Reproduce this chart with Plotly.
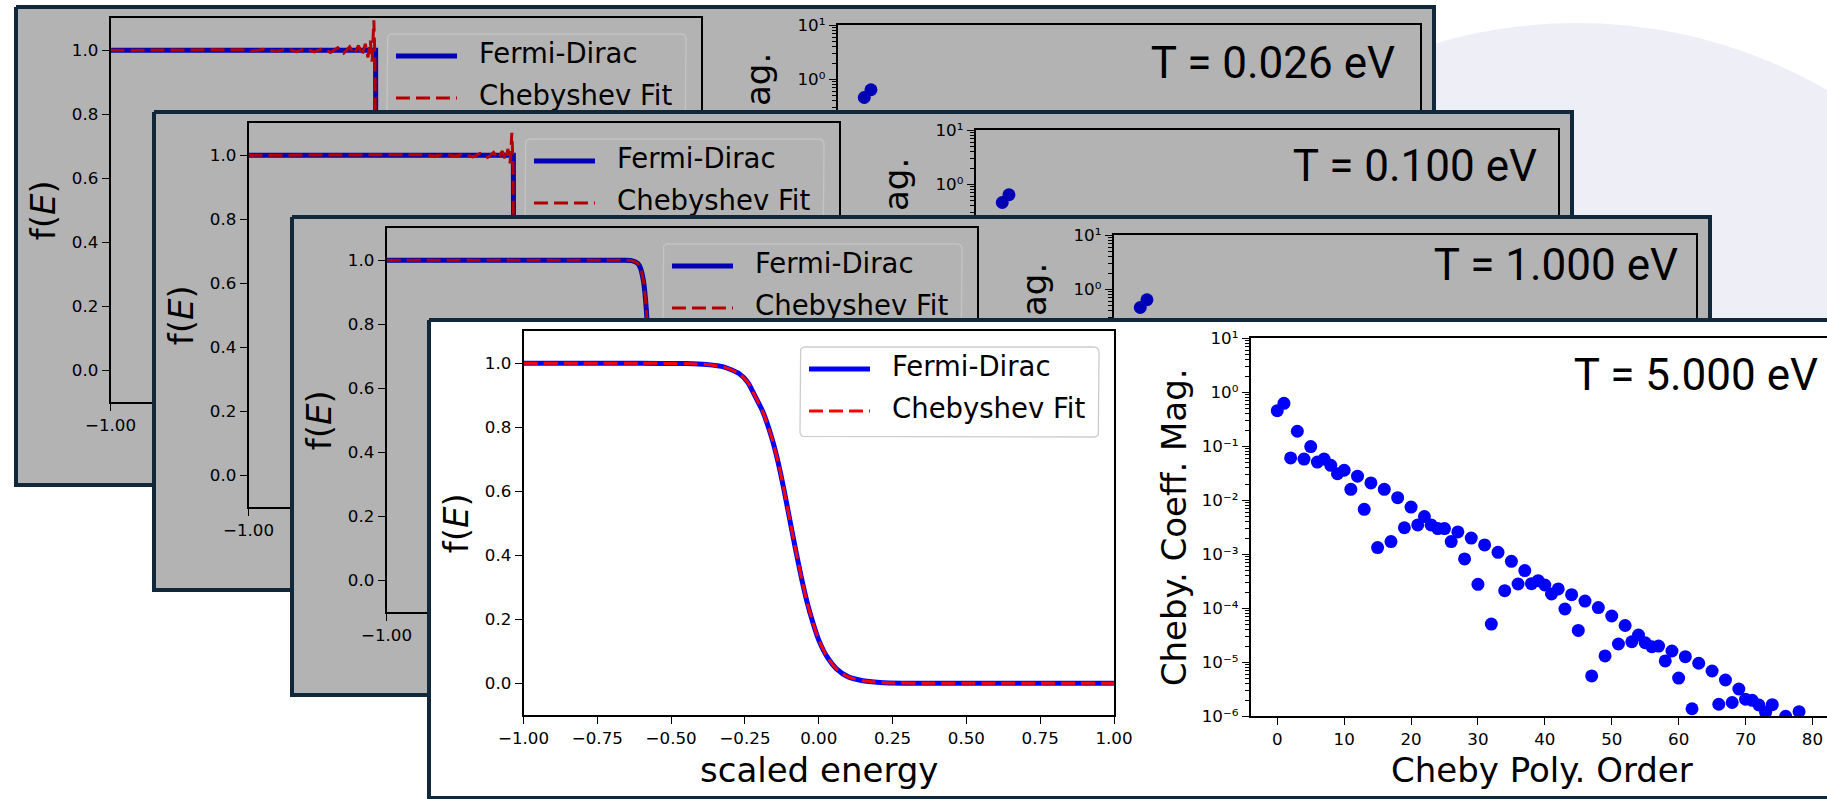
import math
import plotly.graph_objects as go

FIG_W, FIG_H = 1827, 799

# ------------------------------------------------------------------ data
panel_titles = ["T = 0.026 eV", "T = 0.100 eV", "T = 1.000 eV", "T = 5.000 eV"]

# Fermi-Dirac occupation f(E) vs scaled energy
fd_x_t0026 = [-1.00, -0.102, -0.101, 1.00]
fd_y_t0026 = [1.00, 1.00, 0.00, 0.00]
cheb_x_t0026 = [-1.00, -0.60, -0.56, -0.52, -0.48, -0.44, -0.40, -0.37, -0.34, -0.31, -0.28,
                -0.255, -0.23, -0.21, -0.19, -0.175, -0.16, -0.148, -0.137, -0.128, -0.120,
                -0.114, -0.108, -0.104, -0.101, -0.098, -0.09, 1.00]
cheb_y_t0026 = [1.000, 1.000, 1.002, 0.998, 1.003, 0.997, 1.004, 0.996, 1.005, 0.995, 1.006,
                0.993, 1.008, 0.991, 1.011, 0.988, 1.015, 0.984, 1.020, 0.978, 1.030,
                0.965, 1.094, 0.960, 0.50, -0.04, 0.01, 0.00]

fd_x_t0100 = [-1.00, -0.103, -0.100, 1.00]
fd_y_t0100 = [1.00, 1.00, 0.00, 0.00]
cheb_x_t0100 = [-1.00, -0.45, -0.41, -0.37, -0.33, -0.30, -0.27, -0.24, -0.215, -0.19, -0.17,
                -0.155, -0.14, -0.13, -0.121, -0.114, -0.108, -0.104, -0.101, -0.098, -0.09, 1.00]
cheb_y_t0100 = [1.000, 1.000, 1.002, 0.998, 1.003, 0.997, 1.004, 0.995, 1.006, 0.993, 1.009,
                0.990, 1.013, 0.985, 1.020, 0.975, 1.070, 0.965, 0.50, -0.03, 0.01, 0.00]

fd_x_t1000 = [-1.00, -0.20, -0.17, -0.15, -0.14, -0.13, -0.125, -0.12, -0.115, -0.11, -0.105,
              -0.10, -0.095, -0.09, -0.085, -0.08, -0.07, -0.06, -0.04, 0.00, 1.00]
fd_y_t1000 = [1.000, 1.000, 0.999, 0.991, 0.976, 0.937, 0.900, 0.846, 0.769, 0.668, 0.550,
              0.426, 0.310, 0.214, 0.142, 0.091, 0.036, 0.013, 0.002, 0.000, 0.000]
cheb_x_t1000 = [-1.00, -0.20, -0.17, -0.15, -0.14, -0.13, -0.125, -0.12, -0.115, -0.11, -0.105,
                -0.10, -0.095, -0.09, -0.085, -0.08, -0.07, -0.06, -0.04, 0.00, 1.00]
cheb_y_t1000 = [1.000, 1.000, 0.999, 0.991, 0.976, 0.937, 0.900, 0.846, 0.769, 0.668, 0.550,
                0.426, 0.310, 0.214, 0.142, 0.091, 0.036, 0.013, 0.002, 0.000, 0.000]

fd_x_t5000 = [-1.00, -0.60, -0.45, -0.38, -0.32, -0.27, -0.24, -0.22, -0.19, -0.16, -0.14, -0.12,
              -0.10, -0.08, -0.06, -0.04, -0.02, 0.00, 0.03, 0.06, 0.10, 0.15, 0.22, 0.35, 0.60, 1.00]
fd_y_t5000 = [1.000, 1.000, 0.999, 0.996, 0.988, 0.968, 0.940, 0.905, 0.850, 0.770, 0.700, 0.615,
              0.520, 0.425, 0.335, 0.255, 0.190, 0.135, 0.080, 0.045, 0.020, 0.008, 0.002, 0.000,
              0.000, 0.000]
cheb_x_t5000 = [-1.00, -0.60, -0.45, -0.38, -0.32, -0.27, -0.24, -0.22, -0.19, -0.16, -0.14, -0.12,
                -0.10, -0.08, -0.06, -0.04, -0.02, 0.00, 0.03, 0.06, 0.10, 0.15, 0.22, 0.35, 0.60, 1.00]
cheb_y_t5000 = [1.000, 1.000, 0.999, 0.996, 0.988, 0.968, 0.940, 0.905, 0.850, 0.770, 0.700, 0.615,
                0.520, 0.425, 0.335, 0.255, 0.190, 0.135, 0.080, 0.045, 0.020, 0.008, 0.002, 0.000,
                0.000, 0.000]

# Chebyshev coefficient magnitudes (only the visible points)
coef_n_t0026 = [0, 1]
coef_mag_t0026 = [0.46, 0.64]
coef_n_t0100 = [0, 1]
coef_mag_t0100 = [0.46, 0.64]
coef_n_t1000 = [0, 1]
coef_mag_t1000 = [0.46, 0.64]
coef_n_t5000 = [0, 1, 2, 3, 4, 5, 6, 7, 8, 9, 10, 11, 12, 13, 14, 15, 16, 17, 18, 19, 20,
                21, 22, 23, 24, 25, 26, 27, 28, 29, 30, 31, 32, 33, 34, 35, 36, 37, 38, 39, 40,
                41, 42, 43, 44, 45, 46, 47, 48, 49, 50, 51, 52, 53, 54, 55, 56, 57, 58, 59, 60,
                61, 62, 63, 65, 66, 67, 68, 69, 70, 71, 72, 73, 74, 76, 78]
coef_mag_t5000 = [0.457, 0.625, 0.061, 0.19, 0.058, 0.099, 0.051, 0.058, 0.0445, 0.031, 0.036,
                  0.016, 0.028, 0.0068, 0.021, 0.00133, 0.016, 0.00172, 0.0112, 0.0031, 0.0075,
                  0.0035, 0.0050, 0.0035, 0.0030, 0.0030, 0.00172, 0.0026, 0.00082, 0.0020, 0.000278,
                  0.00149, 5.1e-5, 0.00109, 0.000212, 0.00074, 0.000282, 0.0005, 0.000286, 0.000325, 0.00027,
                  0.000184, 0.000228, 9.7e-5, 0.000179, 3.9e-5, 0.000136, 5.6e-6, 0.000103, 1.31e-5, 7.2e-5,
                  2.18e-5, 4.8e-5, 2.4e-5, 3.2e-5, 2.3e-5, 1.95e-5, 2.0e-5, 1.06e-5, 1.62e-5, 5.1e-6,
                  1.27e-5, 1.38e-6, 9.6e-6, 6.9e-6, 1.67e-6, 4.7e-6, 1.8e-6, 3.2e-6, 2.07e-6, 1.98e-6,
                  1.62e-6, 1.19e-6, 1.64e-6, 1.0e-6, 1.22e-6]

log_tick_vals = [1e-6, 1e-5, 1e-4, 1e-3, 1e-2, 1e-1, 1e0, 1e1]
log_tick_text = ["10\u207b\u2076", "10\u207b\u2075", "10\u207b\u2074", "10\u207b\u00b3",
                 "10\u207b\u00b2", "10\u207b\u00b9", "10\u2070", "10\u00b9"]

panel_data = [
    (fd_x_t0026, fd_y_t0026, cheb_x_t0026, cheb_y_t0026, coef_n_t0026, coef_mag_t0026),
    (fd_x_t0100, fd_y_t0100, cheb_x_t0100, cheb_y_t0100, coef_n_t0100, coef_mag_t0100),
    (fd_x_t1000, fd_y_t1000, cheb_x_t1000, cheb_y_t1000, coef_n_t1000, coef_mag_t1000),
    (fd_x_t5000, fd_y_t5000, cheb_x_t5000, cheb_y_t5000, coef_n_t5000, coef_mag_t5000),
]

# ------------------------------------------------------------------ layout constants
PANEL_ORIGINS = [(14, 5), (152, 110), (290, 215), (427, 318)]
PW, PH = 1422, 482
TITLE_POS = [(1381, 62), (1385, 60), (1388, 53.5), (1391, 61)]
DARK = "#10283a"
MPL = "DejaVu Sans"
TICK_FONT = dict(family=MPL, size=16.7, color="black")
TITLE_FONT = dict(family=MPL, size=34, color="black")

# right axes: pixel extent inside the panel and its x range
R_X0, R_X1 = 823.5, 1405.5
R_LO, R_HI = -4.0, 83.0


def ax_key(kind, n):
    return f"{kind}axis" if n == 1 else f"{kind}axis{n}"


def ax_ref(kind, n):
    return kind if n == 1 else f"{kind}{n}"


def rounded_rect(x0, y0, x1, y1, r, n=6):
    xs, ys = [], []
    for cx, cy, a0, a1 in [(x1 - r, y0 + r, -90, 0), (x1 - r, y1 - r, 0, 90),
                           (x0 + r, y1 - r, 90, 180), (x0 + r, y0 + r, 180, 270)]:
        for i in range(n + 1):
            a = math.radians(a0 + (a1 - a0) * i / n)
            xs.append(cx + r * math.cos(a))
            ys.append(cy + r * math.sin(a))
    xs.append(xs[0])
    ys.append(ys[0])
    return xs, ys


def paper(px, py):
    return px / FIG_W, 1 - py / FIG_H


fig = go.Figure()
layout = {}
annotations = []
minor_vals = [m * 10.0 ** e for e in range(-6, 1) for m in range(2, 10)]

for k, (ox, oy) in enumerate(PANEL_ORIGINS):
    gray = k < 3
    bg = "#b3b3b3" if gray else "white"
    blue = "#0000b4" if gray else "#0000ff"
    red = "#b40000" if gray else "#ff0000"
    leg_edge = "#c4c4c4" if gray else "#cccccc"
    fdx, fdy, chx, chy, cn, cm = panel_data[k]
    nc, nl, nr = 3 * k + 1, 3 * k + 2, 3 * k + 3
    smooth = "spline" if k >= 2 else "linear"

    # ---------------- canvas (panel background, legend, temperature label)
    cx1 = min(ox + PW, FIG_W)
    cy1 = min(oy + PH, FIG_H)
    cw, ch = cx1 - ox, cy1 - oy
    layout[ax_key("x", nc)] = dict(domain=[ox / FIG_W, cx1 / FIG_W], range=[0, cw], visible=False,
                                   anchor=ax_ref("y", nc), fixedrange=True)
    layout[ax_key("y", nc)] = dict(domain=[1 - cy1 / FIG_H, 1 - oy / FIG_H], range=[ch, 0],
                                   visible=False, anchor=ax_ref("x", nc), fixedrange=True)
    cxr, cyr = ax_ref("x", nc), ax_ref("y", nc)
    common = dict(xaxis=cxr, yaxis=cyr, hoverinfo="skip", showlegend=False)
    fig.add_trace(go.Scatter(x=[2, PW - 2, PW - 2, 2, 2], y=[2, 2, PH - 2, PH - 2, 2], mode="lines",
                             fill="toself", fillcolor=bg, line=dict(color=DARK, width=4), **common))
    bx, by = rounded_rect(373, 29, 672, 119, 5)
    fig.add_trace(go.Scatter(x=bx, y=by, mode="lines", fill="toself", fillcolor=bg,
                             line=dict(color=leg_edge, width=1.3), **common))
    fig.add_trace(go.Scatter(x=[382, 443], y=[51, 51], mode="lines",
                             line=dict(color=blue, width=5), **common))
    fig.add_trace(go.Scatter(x=[382, 443], y=[93, 93], mode="lines",
                             line=dict(color=red, width=3, dash="14px,6px"), **common))
    fig.add_trace(go.Scatter(x=[465, 465], y=[51, 93], mode="text",
                             text=["Fermi-Dirac", "Chebyshev Fit"], textposition="middle right",
                             textfont=dict(family=MPL, size=27.5, color="black"), **common))
    tx, ty = TITLE_POS[k]
    fig.add_trace(go.Scatter(x=[tx], y=[ty], mode="text", text=[panel_titles[k]],
                             textposition="middle left",
                             textfont=dict(family="Roboto", size=44, color="black"), **common))

    # ---------------- left axes: f(E)
    axis_style = dict(showline=True, mirror=True, linecolor="black", linewidth=1.5,
                      ticks="outside", ticklen=7, tickwidth=1.2, tickcolor="black",
                      showgrid=False, zeroline=False, tickfont=TICK_FONT, fixedrange=True)
    lx0, lx1 = ox + 96.5, ox + 687
    ly0, ly1 = oy + 13.3, oy + 397.3
    xl = dict(domain=[lx0 / FIG_W, lx1 / FIG_W], range=[-1, 1], anchor=ax_ref("y", nl), **axis_style)
    if gray:
        # only the first tick survives beneath the panel stacked on top
        xl.update(tickmode="array", tickvals=[-1.0], ticktext=["\u22121.00"])
    else:
        xl.update(tick0=-1, dtick=0.25, tickformat=".2f")
        ax_, ay_ = paper((lx0 + lx1) / 2, oy + 452)
        annotations.append(dict(text="scaled energy", showarrow=False, x=ax_, y=ay_,
                                xref="paper", yref="paper", xanchor="center", yanchor="middle",
                                font=TITLE_FONT))
    layout[ax_key("x", nl)] = xl
    layout[ax_key("y", nl)] = dict(domain=[1 - ly1 / FIG_H, 1 - ly0 / FIG_H], range=[-0.1, 1.1],
                                   tick0=0, dtick=0.2, tickformat=".1f", anchor=ax_ref("x", nl),
                                   title=dict(text="f(<i>E</i>)", font=TITLE_FONT, standoff=6),
                                   **axis_style)
    lxr, lyr = ax_ref("x", nl), ax_ref("y", nl)
    fig.add_trace(go.Scatter(x=fdx, y=fdy, mode="lines", name="Fermi-Dirac",
                             line=dict(color=blue, width=5, shape=smooth, smoothing=0.6),
                             xaxis=lxr, yaxis=lyr, showlegend=False, hoverinfo="skip"))
    fig.add_trace(go.Scatter(x=chx, y=chy, mode="lines", name="Chebyshev Fit",
                             line=dict(color=red, width=3, dash="14px,6px", shape=smooth,
                                       smoothing=0.6),
                             xaxis=lxr, yaxis=lyr, showlegend=False, hoverinfo="skip"))

    # ---------------- right axes: coefficient magnitudes
    rx0 = ox + R_X0
    rx1 = min(ox + R_X1, FIG_W)
    r_hi = R_LO + (rx1 - rx0) * (R_HI - R_LO) / (R_X1 - R_X0)
    ry0, ry1 = oy + 20.3, oy + 398.3
    xr = dict(domain=[rx0 / FIG_W, rx1 / FIG_W], range=[R_LO, r_hi], tick0=0, dtick=10,
              anchor=ax_ref("y", nr), **axis_style)
    yr = dict(domain=[1 - ry1 / FIG_H, 1 - ry0 / FIG_H], type="log", range=[-6, 1],
              tickmode="array", anchor=ax_ref("x", nr),
              minor=dict(tickmode="array", tickvals=minor_vals, ticks="outside",
                         ticklen=4, tickwidth=1, tickcolor="black"),
              **axis_style)
    if gray:
        xr.update(showticklabels=False)
        yr.update(tickvals=log_tick_vals[-2:], ticktext=log_tick_text[-2:])
        annotations.append(dict(text="ag.", textangle=-90, showarrow=False,
                                x=(ox + 744) / FIG_W, y=1 - (oy + 75) / FIG_H,
                                xref="paper", yref="paper", xanchor="center", yanchor="middle",
                                font=TITLE_FONT))
    else:
        ax_, ay_ = paper(ox + 1115, oy + 452)
        annotations.append(dict(text="Cheby Poly. Order", showarrow=False, x=ax_, y=ay_,
                                xref="paper", yref="paper", xanchor="center", yanchor="middle",
                                font=TITLE_FONT))
        yr.update(tickvals=log_tick_vals, ticktext=log_tick_text,
                  title=dict(text="Cheby. Coeff. Mag.", font=TITLE_FONT, standoff=5))
    layout[ax_key("x", nr)] = xr
    layout[ax_key("y", nr)] = yr
    fig.add_trace(go.Scatter(x=cn, y=cm, mode="markers", name="|c_n|",
                             marker=dict(color=blue, size=13),
                             xaxis=ax_ref("x", nr), yaxis=ax_ref("y", nr),
                             showlegend=False, hoverinfo="skip"))

# faint decorative disc behind the panels (top right)
shapes = [dict(type="circle", xref="paper", yref="paper", layer="below",
               x0=(1577 - 500) / FIG_W, x1=(1577 + 500) / FIG_W,
               y0=1 - (523 + 500) / FIG_H, y1=1 - (523 - 500) / FIG_H,
               fillcolor="#eeeef7", line=dict(width=0))]

fig.update_layout(width=FIG_W, height=FIG_H, margin=dict(l=0, r=0, t=0, b=0, pad=0),
                  paper_bgcolor="white", plot_bgcolor="rgba(0,0,0,0)", showlegend=False,
                  hovermode=False, template="none", annotations=annotations, shapes=shapes,
                  **layout)

fig.write_html("out.html")
